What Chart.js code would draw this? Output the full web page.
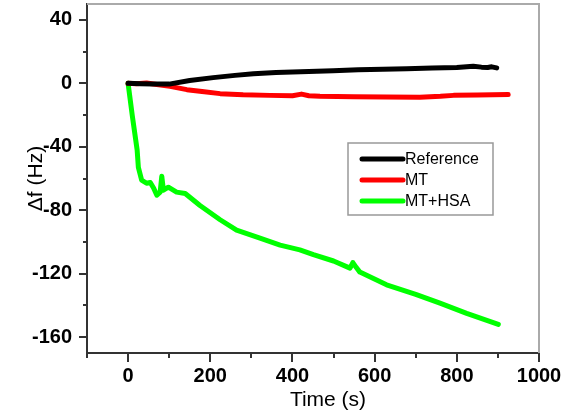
<!DOCTYPE html>
<html>
<head>
<meta charset="utf-8">
<script src="https://cdn.jsdelivr.net/npm/chart.js@4.4.1/dist/chart.umd.min.js"></script>
<style>
  html, body { margin: 0; padding: 0; background: #fff; }
  #wrap { width: 563px; height: 415px; }
</style>
</head>
<body>
<div id="wrap"><canvas id="qcm"></canvas></div>
<script>
const seriesNames = ['Reference', 'MT', 'MT+HSA'];

const refTime = [0, 30, 60, 100, 150, 207, 260, 305, 360, 420, 499, 560, 620, 678, 740, 800, 840, 860, 875, 885, 897];
const refShift = [0, -0.3, -0.5, -0.5, 1.8, 3.6, 5, 6, 6.8, 7.3, 8, 8.5, 8.8, 9.2, 9.6, 10, 10.8, 10.2, 10, 10.4, 9.7];

const mtTime = [0, 20, 45, 70, 102, 143, 180, 224, 280, 345, 400, 422, 440, 467, 550, 629, 710, 760, 792, 850, 925];
const mtShift = [0, -0.3, 0.2, -0.8, -1.9, -4, -5.2, -6.5, -7.2, -7.6, -7.8, -6.8, -7.8, -8.2, -8.4, -8.6, -8.8, -8.2, -7.6, -7.4, -7.1];

const hsaTime = [0, 10, 22, 25, 33, 45, 54, 62, 70, 78, 82, 86, 98, 118, 139, 175, 224, 264, 321, 370, 418, 451, 500, 540, 547, 555, 564, 629, 700, 759, 824, 901];
const hsaShift = [0, -20, -42, -53, -61, -63, -62.5, -66, -70.5, -68.6, -58.6, -67.4, -65.5, -68.6, -69.5, -77, -86, -92.6, -97.6, -102, -105, -108, -112, -116.5, -113, -116, -119, -127, -133, -138.6, -145, -152];

// all tick positions (minor + major) and the labelled ones
const xTickValues = [-100, 0, 100, 200, 300, 400, 500, 600, 700, 800, 900, 1000];
const xTicksMajor = [0, 200, 400, 600, 800, 1000];
const yTickValues = [-160, -140, -120, -100, -80, -60, -40, -20, 0, 20, 40];
const yTicksMajor = [-160, -120, -80, -40, 0, 40];

const xTitle = 'Time (s)';
const yTitle = 'Δf (Hz)';

const FONT = 'Arial, "Liberation Sans", sans-serif';

function pts(t, v) {
  return t.map((x, i) => ({ x: x, y: v[i] }));
}

// short minor ticks, long major ticks, both pointing outwards
const tickMarks = {
  id: 'tickMarks',
  afterDraw(chart) {
    const ctx = chart.ctx;
    const area = chart.chartArea;
    const xs = chart.scales.x, ys = chart.scales.y;
    ctx.save();
    ctx.strokeStyle = '#333';
    ctx.lineWidth = 2;
    xs.ticks.forEach(t => {
      const px = Math.round(xs.getPixelForValue(t.value));
      const len = xTicksMajor.includes(t.value) ? 9 : 5;
      ctx.beginPath();
      ctx.moveTo(px, area.bottom);
      ctx.lineTo(px, area.bottom + len);
      ctx.stroke();
    });
    ys.ticks.forEach(t => {
      const py = Math.round(ys.getPixelForValue(t.value));
      const len = yTicksMajor.includes(t.value) ? 8 : 4;
      ctx.beginPath();
      ctx.moveTo(area.left, py);
      ctx.lineTo(area.left - len, py);
      ctx.stroke();
    });
    // light frame on top and right
    ctx.strokeStyle = '#aaa';
    ctx.beginPath();
    ctx.moveTo(area.left, area.top);
    ctx.lineTo(area.right, area.top);
    ctx.lineTo(area.right, area.bottom);
    ctx.stroke();
    // x title sits a little right of centre in the original
    ctx.fillStyle = '#000';
    ctx.font = '21px ' + FONT;
    ctx.textAlign = 'center';
    ctx.textBaseline = 'middle';
    ctx.fillText(xTitle, (area.left + area.right) / 2 + 15, 400);
    ctx.restore();
  }
};

// boxed legend inside the plot
const boxLegend = {
  id: 'boxLegend',
  afterDraw(chart) {
    const ctx = chart.ctx;
    const bx = 348, by = 143, bw = 145, bh = 72;
    ctx.save();
    ctx.fillStyle = '#fff';
    ctx.fillRect(bx, by, bw, bh);
    ctx.strokeStyle = '#999';
    ctx.lineWidth = 1.5;
    ctx.strokeRect(bx, by, bw, bh);
    ctx.font = '16px ' + FONT;
    ctx.textBaseline = 'middle';
    ctx.lineCap = 'round';
    chart.data.datasets.forEach((ds, i) => {
      const y = by + 16 + i * 21;
      ctx.strokeStyle = ds.borderColor;
      ctx.lineWidth = 5;
      ctx.beginPath();
      ctx.moveTo(bx + 14, y);
      ctx.lineTo(bx + 55, y);
      ctx.stroke();
      ctx.fillStyle = '#000';
      ctx.fillText(ds.label, bx + 57, y + 1);
    });
    ctx.restore();
  }
};

new Chart(document.getElementById('qcm'), {
  type: 'line',
  data: {
    datasets: [
      { label: seriesNames[0], data: pts(refTime, refShift), borderColor: '#000000' },
      { label: seriesNames[1], data: pts(mtTime, mtShift), borderColor: '#ff0000' },
      { label: seriesNames[2], data: pts(hsaTime, hsaShift), borderColor: '#00ff00' }
    ]
  },
  options: {
    responsive: true,
    maintainAspectRatio: false,
    animation: false,
    layout: { padding: { top: 4, right: 24, left: 0, bottom: 0 } },
    elements: {
      point: { radius: 0 },
      line: { borderWidth: 5, borderCapStyle: 'round', borderJoinStyle: 'round', tension: 0 }
    },
    plugins: {
      legend: { display: false },
      tooltip: { enabled: false }
    },
    scales: {
      x: {
        type: 'linear',
        min: -100,
        max: 1000,
        afterBuildTicks: s => { s.ticks = xTickValues.map(v => ({ value: v })); },
        afterFit: s => { s.height = 62; s.paddingLeft = 0; s.paddingRight = 0; },
        ticks: {
          padding: 11,
          maxRotation: 0,
          autoSkip: false,
          color: '#000',
          font: { family: FONT, size: 20, weight: 'bold' },
          callback: v => (xTicksMajor.includes(v) ? String(v) : '')
        },
        grid: { drawOnChartArea: false, drawTicks: false },
        border: { display: true, color: '#333', width: 2 },
        title: { display: false, text: xTitle }
      },
      y: {
        min: -170,
        max: 50,
        afterBuildTicks: s => { s.ticks = yTickValues.map(v => ({ value: v })); },
        afterFit: s => { s.width = 87; s.paddingTop = 0; s.paddingBottom = 0; },
        ticks: {
          padding: 15,
          autoSkip: false,
          color: '#000',
          font: { family: FONT, size: 20, weight: 'bold' },
          callback: v => (yTicksMajor.includes(v) ? String(v) : '')
        },
        grid: { drawOnChartArea: false, drawTicks: false },
        border: { display: true, color: '#333', width: 2 },
        title: {
          display: true,
          text: yTitle,
          color: '#000',
          font: { family: FONT, size: 21 },
          padding: { top: 24, bottom: 0 }
        }
      }
    }
  },
  plugins: [tickMarks, boxLegend]
});
</script>
</body>
</html>
